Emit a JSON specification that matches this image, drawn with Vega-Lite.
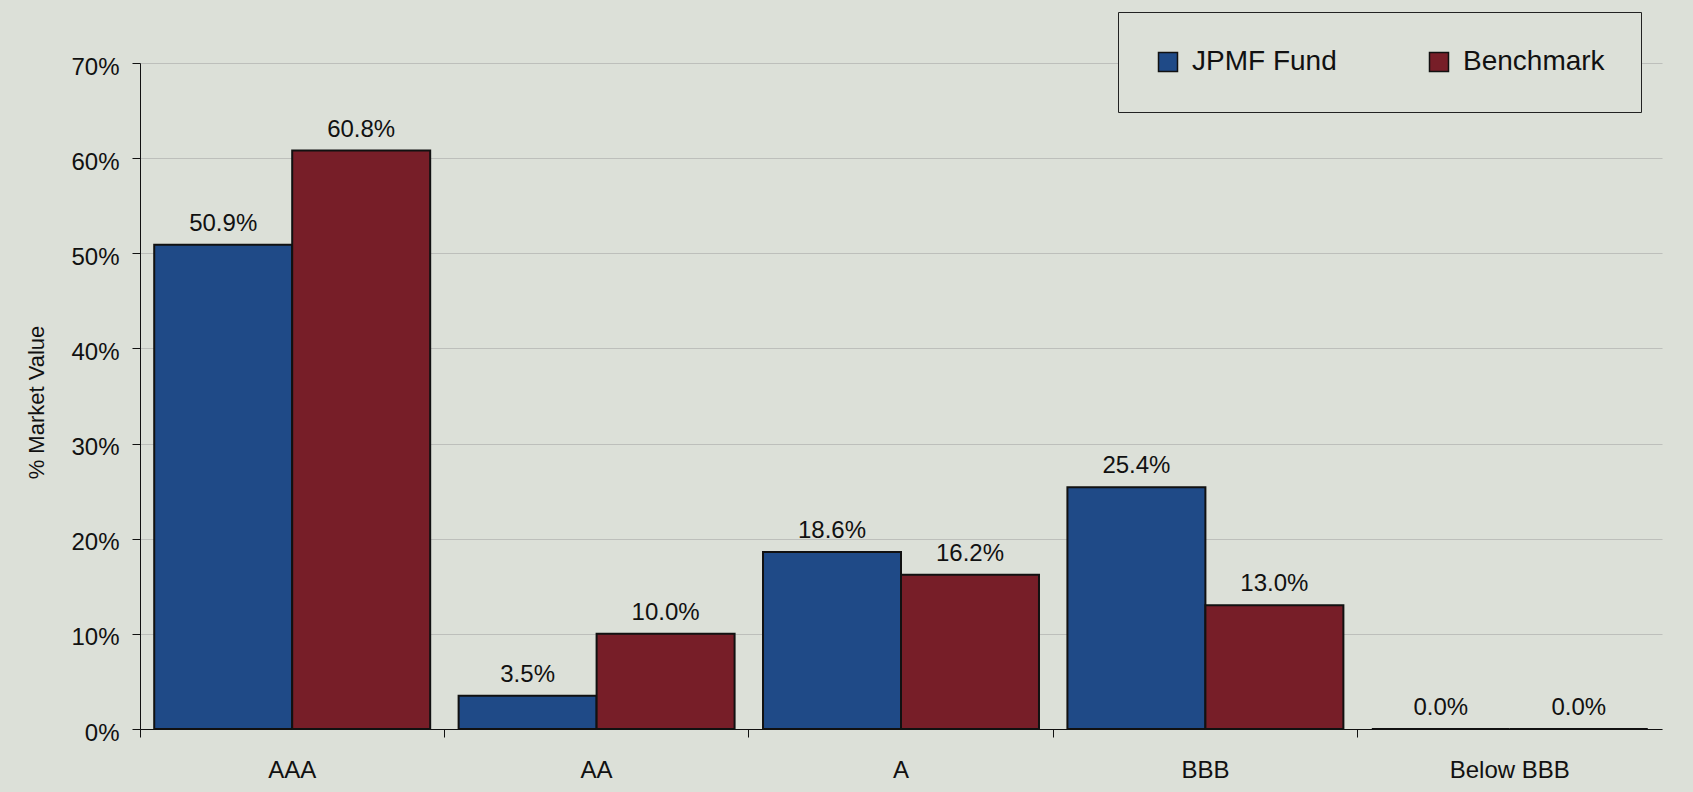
{
  "$schema": "https://vega.github.io/schema/vega-lite/v6.json",
  "width": 1522,
  "height": 666,
  "autosize": {"type": "none"},
  "padding": {"left": 140, "top": 63, "right": 31, "bottom": 63},
  "background": "#DCE0D8",
  "config": {"view": {"stroke": null}, "font": "Liberation Sans"},
  "data": {
    "values": [
      {"rating": "AAA", "series": "JPMF Fund", "value": 0.509},
      {"rating": "AAA", "series": "Benchmark", "value": 0.608},
      {"rating": "AA", "series": "JPMF Fund", "value": 0.035},
      {"rating": "AA", "series": "Benchmark", "value": 0.100},
      {"rating": "A", "series": "JPMF Fund", "value": 0.186},
      {"rating": "A", "series": "Benchmark", "value": 0.162},
      {"rating": "BBB", "series": "JPMF Fund", "value": 0.254},
      {"rating": "BBB", "series": "Benchmark", "value": 0.130},
      {"rating": "Below BBB", "series": "JPMF Fund", "value": 0.0},
      {"rating": "Below BBB", "series": "Benchmark", "value": 0.0}
    ]
  },
  "encoding": {
    "x": {
      "field": "rating",
      "type": "nominal",
      "sort": ["AAA", "AA", "A", "BBB", "Below BBB"],
      "scale": {"paddingInner": 0, "paddingOuter": 0},
      "axis": {
        "title": null,
        "labelAngle": 0,
        "bandPosition": 0,
        "tickSize": 8,
        "domainColor": "#111",
        "tickColor": "#111",
        "labelFontSize": 24,
        "labelColor": "#111",
        "labelPadding": 21,
        "grid": false
      }
    },
    "xOffset": {
      "field": "series",
      "type": "nominal",
      "sort": ["JPMF Fund", "Benchmark"],
      "scale": {"paddingInner": 0, "paddingOuter": 0.103}
    },
    "y": {
      "field": "value",
      "type": "quantitative",
      "scale": {"domain": [0, 0.7]},
      "axis": {
        "title": "% Market Value",
        "titleFontSize": 22,
        "titleFontWeight": "normal",
        "titleColor": "#111",
        "titleX": -104,
        "titleY": 339,
        "titleAlign": "center",
        "titleBaseline": "middle",
        "titleAngle": -90,
        "format": ".0%",
        "values": [0, 0.1, 0.2, 0.3, 0.4, 0.5, 0.6, 0.7],
        "grid": true,
        "gridColor": "#BDBFBB",
        "gridWidth": 1,
        "domainColor": "#111",
        "tickColor": "#111",
        "tickSize": 8,
        "labelFontSize": 24,
        "labelColor": "#111",
        "labelPadding": 13,
        "labelOffset": 4
      }
    }
  },
  "layer": [
    {
      "mark": {"type": "bar", "stroke": "#111", "strokeWidth": 2},
      "encoding": {
        "color": {
          "field": "series",
          "type": "nominal",
          "sort": ["JPMF Fund", "Benchmark"],
          "scale": {"domain": ["JPMF Fund", "Benchmark"], "range": ["#1F4A87", "#771E28"]},
          "legend": {
            "title": null,
            "orient": "none",
            "legendX": 978,
            "legendY": -51,
            "direction": "horizontal",
            "fillColor": "#DCE0D8",
            "strokeColor": "#222",
            "padding": 36,
            "symbolType": "square",
            "symbolSize": 361,
            "symbolStrokeColor": "#111",
            "symbolStrokeWidth": 1.5,
            "symbolOpacity": 1,
            "labelFontSize": 28,
            "labelOffset": 10,
            "labelColor": "#111",
            "labelLimit": 300,
            "columnPadding": 88
          }
        }
      }
    },
    {
      "mark": {"type": "text", "baseline": "alphabetic", "dy": -14, "fontSize": 24, "color": "#111"},
      "encoding": {
        "text": {"field": "value", "type": "quantitative", "format": ".1%"}
      }
    }
  ]
}
